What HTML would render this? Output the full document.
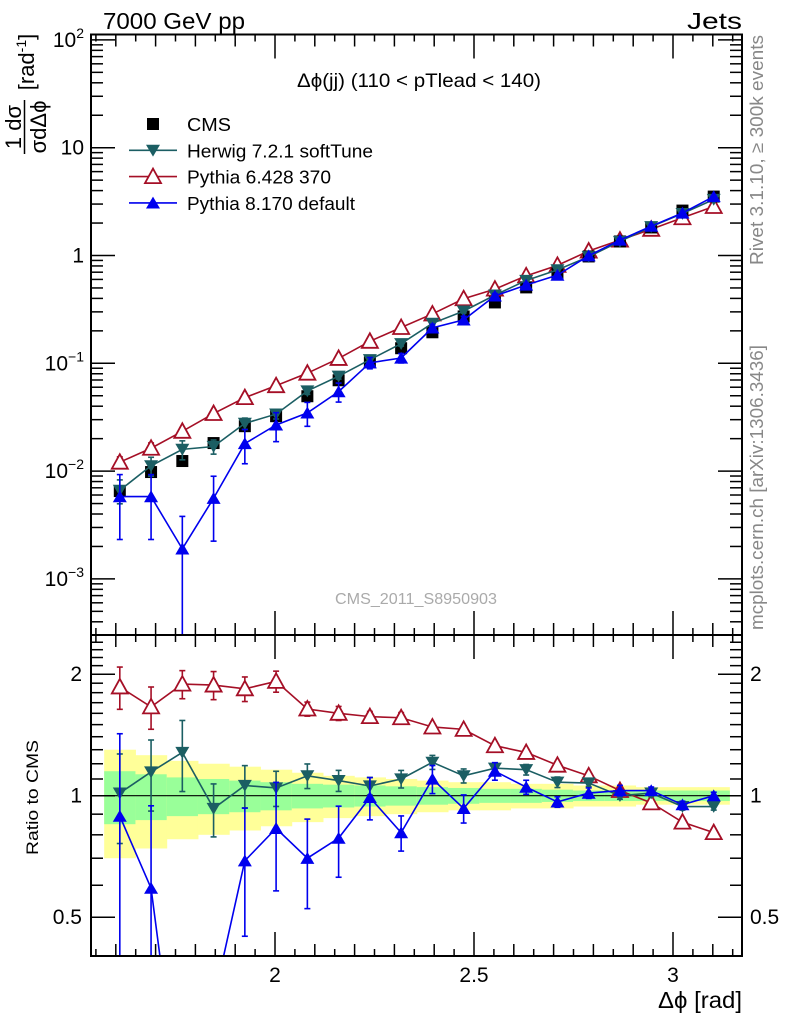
<!DOCTYPE html>
<html><head><meta charset="utf-8"><style>
html,body{margin:0;padding:0;background:#fff;overflow:hidden;width:786px;height:1024px}
svg{display:block;font-family:"Liberation Sans",sans-serif}
</style></head><body>
<svg id="chart" width="786" height="1024" viewBox="0 0 786 1024" xmlns="http://www.w3.org/2000/svg">
<g id="bands"></g>
<g id="grid"></g>
<g id="series"></g>
<rect x="91" y="34.5" width="651" height="600.5" fill="none" stroke="#000" stroke-width="2"/>
<rect x="91" y="635" width="651" height="321" fill="none" stroke="#000" stroke-width="2"/>
<text x="103" y="29" font-size="23" textLength="142" lengthAdjust="spacingAndGlyphs">7000 GeV pp</text>
<text x="687" y="29" font-size="23" textLength="55" lengthAdjust="spacingAndGlyphs">Jets</text>
<text x="297" y="87" font-size="19" textLength="244" lengthAdjust="spacingAndGlyphs">Δϕ(jj) (110 &lt; pTlead &lt;  140)</text>
<text x="335" y="604" font-size="16" fill="#aaa" textLength="162" lengthAdjust="spacingAndGlyphs">CMS_2011_S8950903</text>
<text transform="translate(763,265) rotate(-90)" font-size="18" fill="#888" textLength="230" lengthAdjust="spacingAndGlyphs">Rivet 3.1.10, ≥ 300k events</text>
<text transform="translate(763,630) rotate(-90)" font-size="18" fill="#888" textLength="285" lengthAdjust="spacingAndGlyphs">mcplots.cern.ch [arXiv:1306.3436]</text>
<g>
<text transform="translate(21,127) rotate(-90)" text-anchor="middle" font-size="22">1 dσ</text>
<line x1="24.5" y1="100" x2="24.5" y2="154" stroke="#000" stroke-width="1.5"/>
<text transform="translate(46,127) rotate(-90)" text-anchor="middle" font-size="22">σdΔϕ</text>
<text transform="translate(34,62) rotate(-90)" text-anchor="middle" font-size="22">[rad<tspan font-size="14" dy="-8">-1</tspan><tspan dy="8">]</tspan></text>
</g>
<text transform="translate(38,855) rotate(-90)" font-size="17" textLength="115" lengthAdjust="spacingAndGlyphs">Ratio to CMS</text>
<text x="658" y="1008" font-size="23" textLength="84" lengthAdjust="spacingAndGlyphs">Δϕ [rad]</text>
<g id="legend"></g>
</svg>
<script>
const centers=[];for(let i=0;i<20;i++)centers.push(Math.PI/2+(i+0.5)*Math.PI/40);
const cmsVals=[0.00653,0.0098,0.0124,0.0182,0.0261,0.0323,0.0495,0.0696,0.102,0.138,0.194,0.272,0.367,0.506,0.681,0.98,1.35,1.82,2.61,3.52];
const herwigVals=[0.00663,0.0112,0.0159,0.0169,0.0277,0.0338,0.0554,0.0759,0.108,0.152,0.235,0.305,0.429,0.587,0.736,0.975,1.35,1.85,2.45,3.31];
const py6Vals=[0.0121,0.0163,0.0234,0.0342,0.048,0.062,0.081,0.111,0.160,0.215,0.287,0.397,0.488,0.648,0.81,1.10,1.39,1.75,2.24,2.85];
const py8Vals=[0.0058,0.0058,0.0019,0.0056,0.018,0.0268,0.0347,0.0546,0.101,0.112,0.213,0.253,0.422,0.532,0.657,0.995,1.39,1.87,2.48,3.52];
const herwigRatio=[1.015,1.145,1.28,0.93,1.06,1.045,1.12,1.09,1.057,1.10,1.21,1.12,1.17,1.16,1.08,1.075,1.0,1.015,0.94,0.94];
const py6Ratio=[1.86,1.66,1.89,1.88,1.84,1.92,1.64,1.60,1.57,1.56,1.48,1.46,1.33,1.28,1.19,1.12,1.03,0.96,0.86,0.81];
const py8Ratio=[0.89,0.59,0.15,0.31,0.69,0.83,0.70,0.785,0.99,0.81,1.10,0.93,1.15,1.05,0.965,1.015,1.03,1.03,0.95,1.0];
const herwigErr=[0.25,0.2,0.2,0.15,0.12,0.1,0.07,0.06,0.05,0.05,0.04,0.04,0.03,0.03,0.03,0.02,0.02,0.02,0.02,0.02];
const py6Err=[0.12,0.12,0.08,0.08,0.07,0.06,0.04,0.04,0.03,0.03,0.02,0.02,0.02,0.02,0.01,0.01,0.01,0.01,0.01,0.01];
const py8Err=[0.6,0.6,1.0,0.6,0.35,0.3,0.25,0.2,0.12,0.1,0.08,0.08,0.05,0.04,0.03,0.03,0.03,0.02,0.02,0.02];
const py8RatioErr=[0.6,0.6,1.0,0.2,0.35,0.3,0.25,0.2,0.12,0.1,0.08,0.08,0.05,0.04,0.03,0.03,0.03,0.02,0.02,0.02];
const yellowW=[0.30,0.26,0.22,0.20,0.18,0.16,0.14,0.12,0.11,0.10,0.09,0.08,0.08,0.07,0.07,0.06,0.06,0.05,0.05,0.05];
const greenW=[0.15,0.13,0.11,0.10,0.09,0.08,0.07,0.065,0.06,0.055,0.05,0.045,0.04,0.04,0.035,0.03,0.03,0.03,0.03,0.03];
const xTickLabels=["2","2.5","3"];
const yTickLabels=["10^2","10","1","10^−1","10^−2","10^−3"];
const rTickLabels=["2","1","0.5"];

const NS="http://www.w3.org/2000/svg";
const X=v=>275+(v-2)*398;
const Y=v=>255.5-Math.log10(v)*107.8;
const R=v=>795.7-Math.log10(v)*403.6;
function mk(tag,attrs,parent){const e=document.createElementNS(NS,tag);for(const k in attrs)e.setAttribute(k,attrs[k]);parent.appendChild(e);return e;}
const G=document.getElementById('grid'),S=document.getElementById('series'),B=document.getElementById('bands'),L=document.getElementById('legend');

const hw=Math.PI/80;
centers.forEach((c,i)=>{
 let r=mk('rect',{x:X(c-hw),y:R(1+yellowW[i]),width:X(c+hw)-X(c-hw)+0.5,height:R(1-yellowW[i])-R(1+yellowW[i]),fill:'#ffff99'},B);
 
 
 let g=mk('rect',{x:X(c-hw),y:R(1+greenW[i]),width:X(c+hw)-X(c-hw)+0.5,height:R(1-greenW[i])-R(1+greenW[i]),fill:'#99ff99'},B);
 
 
});
mk('line',{x1:91,x2:742,y1:R(1),y2:R(1),stroke:'#000','stroke-width':1.2},B);

for(let k=0;k<=32;k++){const v=1.55+k*0.05;const x=X(v);if(x<92||x>741)continue;
 const maj=Math.abs(v*2-Math.round(v*2))<1e-6, med=Math.abs(v*10-Math.round(v*10))<1e-6;
 const len=maj?24:(med?12:7);
 [[34.5,1],[635,-1],[635,1],[956,-1]].forEach(([y0,d])=>mk('line',{x1:x,x2:x,y1:y0,y2:y0+d*len,stroke:'#000','stroke-width':1.5},G));
}
[2,2.5,3].forEach((v,i)=>{const t=mk('text',{x:X(v),y:982,'font-size':21,'text-anchor':'middle'},G);t.textContent=xTickLabels[i];
 
 });
for(let e=-4;e<=2;e++)for(let m=1;m<10;m++){const v=m*Math.pow(10,e);const y=Y(v);if(y<35||y>634)continue;
 const len=m==1?24:12;mk('line',{x1:91,x2:91+len,y1:y,y2:y,stroke:'#000','stroke-width':1.5},G);mk('line',{x1:742,x2:742-len,y1:y,y2:y,stroke:'#000','stroke-width':1.5},G);}
[2,1,0,-1,-2,-3].forEach((e,i)=>{const y=Y(Math.pow(10,e));const lab=yTickLabels[i];
 const t=mk('text',{x:84,y:y+7,'font-size':21,'text-anchor':'end'},G);
 
 
 if(lab.indexOf('^')>=0){const p=lab.split('^');t.textContent=p[0];const s=mk('tspan',{dy:-9,'font-size':14},t);s.textContent=p[1];}
 else t.textContent=lab;});
[0.4,0.5,0.6,0.7,0.8,0.9,1,1.1,1.2,1.3,1.4,1.5,1.6,1.7,1.8,1.9,2,2.1,2.2,2.3,2.4,2.5].forEach(v=>{const y=R(v);if(y<636||y>955)return;
 const len=(v==0.5||v==1||v==2)?24:12;mk('line',{x1:91,x2:91+len,y1:y,y2:y,stroke:'#000','stroke-width':1.5},G);mk('line',{x1:742,x2:742-len,y1:y,y2:y,stroke:'#000','stroke-width':1.5},G);});
[2,1,0.5].forEach((v,i)=>{[[82,'end'],[750,'start']].forEach(([x,a])=>{const t=mk('text',{x:x,y:R(v)+7,'font-size':21,'text-anchor':a},G);t.textContent=rTickLabels[i];
 
 });});

function marker(p,x,y,kind,col,size){
 if(kind=='sq')return mk('rect',{x:x-6,y:y-6,width:12,height:12,fill:'#000'},p);
 const s=size||7;
 if(kind=='down')return mk('polygon',{points:`${x-s},${y-s*0.8} ${x+s},${y-s*0.8} ${x},${y+s*0.9}`,fill:col},p);
 if(kind=='up')return mk('polygon',{points:`${x-s},${y+s*0.8} ${x+s},${y+s*0.8} ${x},${y-s*0.9}`,fill:col},p);
 if(kind=='open')return mk('polygon',{points:`${x-8},${y+6.5} ${x+8},${y+6.5} ${x},${y-8}`,fill:'#fff',stroke:col,'stroke-width':1.8},p);
}
function drawSeries(name,vals,err,yf,clipTop,clipBot,col,kind,withLine){
 const g=mk('g',{},S);
 const cid='c'+name;const cp=mk('clipPath',{id:cid},g);mk('rect',{x:91,y:clipTop,width:651,height:clipBot-clipTop},cp);
 const gg=mk('g',{'clip-path':`url(#${cid})`},g);
 if(withLine){mk('polyline',{points:centers.map((c,i)=>X(c)+','+yf(vals[i])).join(' '),fill:'none',stroke:col,'stroke-width':1.6},gg);}
 centers.forEach((c,i)=>{const x=X(c);
  if(err){const lo=Math.max(vals[i]*(1-err[i]),1e-6),hi=vals[i]*(1+err[i]);
   mk('line',{x1:x,x2:x,y1:yf(hi),y2:yf(lo),stroke:col,'stroke-width':1.6},gg);
   [hi,lo].forEach(v=>mk('line',{x1:x-3,x2:x+3,y1:yf(v),y2:yf(v),stroke:col,'stroke-width':1.6},gg));}
  const m=marker(gg,x,yf(vals[i]),kind,col);});
}
drawSeries('pythia6-main',py6Vals,py6Err,Y,35,635,'#a50f26','open',true);
drawSeries('cms-data',cmsVals,null,Y,35,635,'#000','sq',false);
drawSeries('herwig-main',herwigVals,herwigErr,Y,35,635,'#1b5e63','down',true);
drawSeries('pythia8-main',py8Vals,py8Err,Y,35,635,'#0000ee','up',true);
drawSeries('pythia6-ratio',py6Ratio,py6Err,R,636,955,'#a50f26','open',true);
drawSeries('herwig-ratio',herwigRatio,herwigErr,R,636,955,'#1b5e63','down',true);
drawSeries('pythia8-ratio',py8Ratio,py8RatioErr,R,636,955,'#0000ee','up',true);

const leg=[['CMS','#000','sq',44],['Herwig 7.2.1 softTune','#1b5e63','down',186],['Pythia 6.428 370','#a50f26','open',144],['Pythia 8.170 default','#0000ee','up',168]];
leg.forEach((e,i)=>{const y=124+i*26.3;const g=mk('g',{},L);
 
 
 if(e[2]!='sq')mk('line',{x1:129,x2:177,y1:y,y2:y,stroke:e[1],'stroke-width':1.6},g);
 marker(g,153,y,e[2],e[1]);
 const t=mk('text',{x:187,y:y+7,'font-size':18,textLength:e[3],lengthAdjust:'spacingAndGlyphs'},g);t.textContent=e[0];});
</script>
</body></html>
